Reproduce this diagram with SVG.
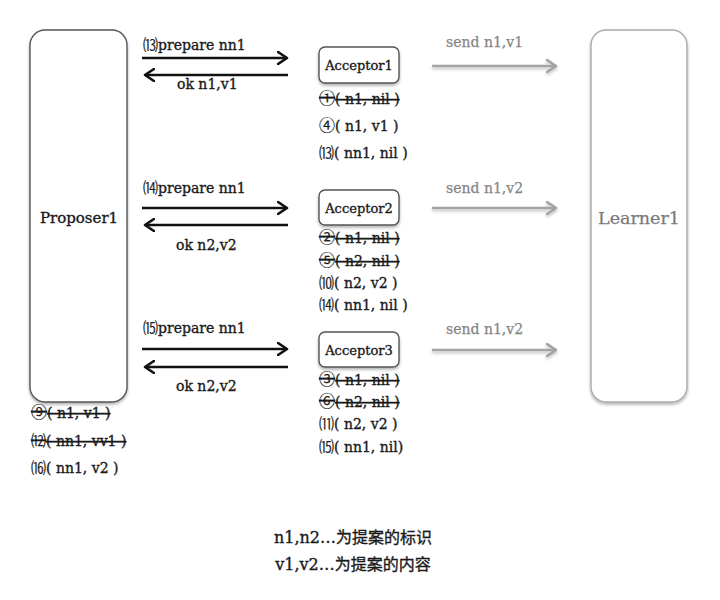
<svg xmlns="http://www.w3.org/2000/svg" width="720" height="600" viewBox="0 0 720 600">
<defs>
<filter id="sh" x="-20%" y="-20%" width="140%" height="140%">
<feDropShadow dx="0" dy="2" stdDeviation="1.8" flood-color="#000" flood-opacity="0.3"/>
</filter>
<filter id="lsh" filterUnits="userSpaceOnUse" x="0" y="0" width="720" height="600">
<feDropShadow dx="0" dy="2" stdDeviation="1.5" flood-color="#000" flood-opacity="0.25"/>
</filter>
<marker id="ah" viewBox="0 0 12 14" refX="10" refY="7" markerWidth="12" markerHeight="14" markerUnits="userSpaceOnUse" orient="auto">
<path d="M1,1 L10,7 L1,13" fill="none" stroke="#111" stroke-width="2.6" stroke-linecap="round" stroke-linejoin="round"/>
</marker>
<marker id="ahg" viewBox="0 0 12 14" refX="10" refY="7" markerWidth="12" markerHeight="14" markerUnits="userSpaceOnUse" orient="auto">
<path d="M1,1 L10,7 L1,13" fill="none" stroke="#a3a3a3" stroke-width="2.6" stroke-linecap="round" stroke-linejoin="round"/>
</marker>
</defs>
<style>
text{font-family:"DejaVu Serif","Liberation Serif","Noto Sans CJK SC",serif;fill:#1a1a1a;stroke:#1a1a1a;stroke-width:0.35px;}
.n{font-family:"Noto Sans CJK SC","DejaVu Sans",sans-serif;font-size:15px;stroke-width:0.2px;}
.c{font-family:"Noto Sans CJK SC","DejaVu Sans",sans-serif;font-size:16px;stroke-width:0.2px;}
.lbl{font-size:14px;}
.st{font-size:14px;}
.del{text-decoration:line-through;}
.acc{font-size:13px;text-anchor:middle;}
.gl{font-size:14px;fill:#858585;stroke:#858585;stroke-width:0.25px;}
.big{font-size:15px;text-anchor:middle;}
.lrn{font-size:17.5px;text-anchor:middle;fill:#7a7a7a;stroke:#7a7a7a;stroke-width:0.25px;}
.box{fill:#fff;stroke:#555;stroke-width:1.4;filter:url(#sh);}
.gbox{fill:#fff;stroke:#aaa;stroke-width:1.4;filter:url(#sh);}
.ar{stroke:#111;stroke-width:2.6;fill:none;marker-end:url(#ah);}
.gar{stroke:#a3a3a3;stroke-width:2.6;fill:none;marker-end:url(#ahg);filter:url(#lsh);}
.note{font-size:16px;text-anchor:middle;}
</style>
<rect width="720" height="600" fill="#fff"/>

<g id="connectors">
<line class="ar" x1="142" y1="58" x2="287" y2="58"/>
<line class="ar" x1="288" y1="75" x2="145" y2="75"/>
<line class="ar" x1="142" y1="208" x2="287" y2="208"/>
<line class="ar" x1="288" y1="225" x2="145" y2="225"/>
<line class="ar" x1="142" y1="349" x2="287" y2="349"/>
<line class="ar" x1="288" y1="367" x2="145" y2="367"/>
<line class="gar" x1="432" y1="66" x2="556" y2="66"/>
<line class="gar" x1="432" y1="208" x2="556" y2="208"/>
<line class="gar" x1="432" y1="350" x2="556" y2="350"/>
<text class="lbl" x="143" y="50"><tspan class="n">⒀</tspan>prepare nn1</text>
<text class="lbl" x="177" y="89">ok n1,v1</text>
<text class="lbl" x="143" y="193"><tspan class="n">⒁</tspan>prepare nn1</text>
<text class="lbl" x="176" y="250">ok n2,v2</text>
<text class="lbl" x="143" y="333"><tspan class="n">⒂</tspan>prepare nn1</text>
<text class="lbl" x="176" y="391">ok n2,v2</text>
<text class="gl" x="446" y="47">send n1,v1</text>
<text class="gl" x="446" y="193">send n1,v2</text>
<text class="gl" x="446" y="334">send n1,v2</text>
</g>

<g id="proposer1">
<rect class="box" x="30" y="30" width="97" height="372" rx="15"/>
<text class="big" x="79" y="223">Proposer1</text>
<text class="st del" x="31" y="418"><tspan class="c">⑨</tspan>( n1, v1 )</text>
<text class="st del" x="31" y="446"><tspan class="n">⑿</tspan>( nn1, vv1 )</text>
<text class="st" x="31" y="473"><tspan class="n">⒃</tspan>( nn1, v2 )</text>
</g>

<g id="acceptor1">
<rect class="box" x="319" y="47" width="80" height="36" rx="6"/>
<text class="acc" x="359" y="70">Acceptor1</text>
<text class="st del" x="319" y="104"><tspan class="c">①</tspan>( n1, nil )</text>
<text class="st" x="319" y="131"><tspan class="c">④</tspan>( n1, v1 )</text>
<text class="st" x="319" y="158"><tspan class="n">⒀</tspan>( nn1, nil )</text>
</g>

<g id="acceptor2">
<rect class="box" x="319" y="190" width="80" height="35" rx="6"/>
<text class="acc" x="359" y="213">Acceptor2</text>
<text class="st del" x="319" y="243"><tspan class="c">②</tspan>( n1, nil )</text>
<text class="st del" x="319" y="266"><tspan class="c">⑤</tspan>( n2, nil )</text>
<text class="st" x="319" y="288"><tspan class="n">⑽</tspan>( n2, v2 )</text>
<text class="st" x="319" y="310"><tspan class="n">⒁</tspan>( nn1, nil )</text>
</g>

<g id="acceptor3">
<rect class="box" x="319" y="332" width="80" height="35" rx="6"/>
<text class="acc" x="359" y="355">Acceptor3</text>
<text class="st del" x="319" y="385"><tspan class="c">③</tspan>( n1, nil )</text>
<text class="st del" x="319" y="407"><tspan class="c">⑥</tspan>( n2, nil )</text>
<text class="st" x="319" y="429"><tspan class="n">⑾</tspan>( n2, v2 )</text>
<text class="st" x="319" y="452"><tspan class="n">⒂</tspan>( nn1, nil)</text>
</g>

<g id="learner1">
<rect class="gbox" x="591" y="30" width="96" height="372" rx="15"/>
<text class="lrn" x="639" y="224">Learner1</text>
</g>

<g id="legend">
<text class="note" x="353" y="543">n1,n2…为提案的标识</text>
<text class="note" x="353" y="570">v1,v2…为提案的内容</text>
</g>
</svg>
